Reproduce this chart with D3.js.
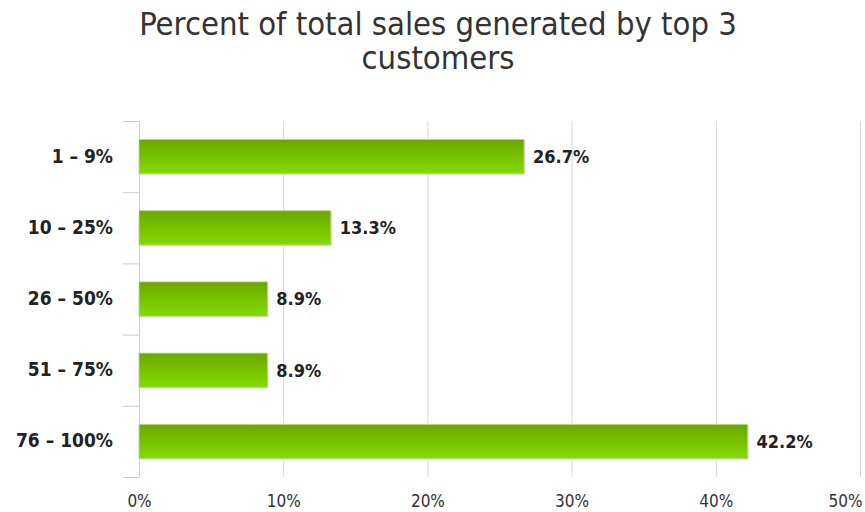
<!DOCTYPE html>
<html><head><meta charset="utf-8">
<script src="https://cdn.jsdelivr.net/npm/d3@7"></script>
<style>body{margin:0;background:#fff}</style>
</head><body>
<script>
const categories = ["1 – 9%", "10 – 25%", "26 – 50%", "51 – 75%", "76 – 100%"];
const values = [26.7, 13.3, 8.9, 8.9, 42.2];
const xTicks = [0, 10, 20, 30, 40, 50];
const titleLines = ["Percent of total sales generated by top 3", "customers"];

const W = 865, H = 512;
const m = {left: 139, right: 5, top: 121, bottom: 35};
const FONT = "DejaVu Sans Condensed, DejaVu Sans";
const svg = d3.select("body").append("svg").attr("width", W).attr("height", H);

const defs = svg.append("defs");
const grad = defs.append("linearGradient").attr("id", "g").attr("x1", 0).attr("y1", 0).attr("x2", 0).attr("y2", 1);
grad.append("stop").attr("offset", "0%").attr("stop-color", "#6aa800");
grad.append("stop").attr("offset", "100%").attr("stop-color", "#84da00");

const x = d3.scaleLinear().domain([0, 50]).range([m.left, W - m.right]);
const y = d3.scaleBand().domain(categories).range([m.top, H - m.bottom]).paddingInner(0.52).paddingOuter(0.26);
const yb = d3.scaleBand().domain(categories).range([m.top, H - m.bottom]);

// title
svg.append("g").selectAll("text").data(titleLines).join("text")
  .attr("x", 438).attr("y", (d, i) => 35 + i * 34)
  .attr("text-anchor", "middle")
  .attr("font-family", FONT)
  .attr("font-size", 32.5).attr("fill", "#333")
  .text(d => d);

// grid
svg.append("g").selectAll("line").data(xTicks.slice(1)).join("line")
  .attr("x1", d => x(d) + 0.5).attr("x2", d => x(d) + 0.5)
  .attr("y1", m.top).attr("y2", H - m.bottom)
  .attr("stroke", "#d8d8d8").attr("stroke-width", 1);

// x axis labels
const xa = svg.append("g").attr("transform", `translate(0,${H - m.bottom})`)
  .call(d3.axisBottom(x).tickValues(xTicks).tickFormat(d => d + "%").tickSize(0).tickPadding(18));
xa.select(".domain").remove();
xa.selectAll("text").attr("font-family", FONT).attr("font-size", 17).attr("fill", "#333");
xa.selectAll("text").filter(d => d === 50).attr("text-anchor", "end").attr("x", W - 3 - x(50));

// y axis
const ya = svg.append("g").attr("transform", `translate(${m.left},0)`)
  .call(d3.axisLeft(yb).tickSize(0).tickPadding(26));
ya.select(".domain").attr("stroke", "#c0d0e0");
ya.selectAll("text").attr("font-family", FONT).attr("font-weight", "bold").attr("font-size", 19).attr("fill", "#222");
// boundary ticks
const bounds = categories.map(c => yb(c)).concat([H - m.bottom]);
ya.append("g").selectAll("line").data(bounds).join("line")
  .attr("x1", -16).attr("x2", 0).attr("y1", d => d + 0.5).attr("y2", d => d + 0.5)
  .attr("stroke", "#c0d0e0");

// bars
const bars = svg.append("g");
bars.selectAll("rect.s").data(values).join("rect").attr("class", "s")
  .attr("x", x(0) + 1).attr("y", (d, i) => y(categories[i]) + 1)
  .attr("width", d => x(d) - x(0)).attr("height", y.bandwidth())
  .attr("fill", "#cfcfcf");
bars.selectAll("rect.b").data(values).join("rect").attr("class", "b")
  .attr("x", x(0)).attr("y", (d, i) => y(categories[i]))
  .attr("width", d => x(d) - x(0)).attr("height", y.bandwidth())
  .attr("fill", "url(#g)").attr("stroke", "#b8d88a").attr("stroke-width", 0.8);

// value labels
svg.append("g").selectAll("text").data(values).join("text")
  .attr("x", d => x(d) + 9).attr("y", (d, i) => y(categories[i]) + y.bandwidth() / 2)
  .attr("dy", "0.35em")
  .attr("font-family", FONT).attr("font-weight", "bold").attr("font-size", 18).attr("fill", "#222")
  .text(d => d.toFixed(1) + "%");
</script>
</body></html>
